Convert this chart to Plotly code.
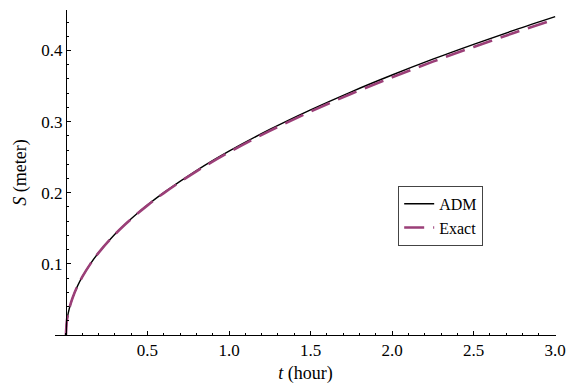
import plotly.graph_objects as go

t = [0, 0.005, 0.01, 0.02, 0.04, 0.07, 0.1, 0.15, 0.2, 0.3, 0.4, 0.5, 0.6, 0.8,
     1.0, 1.25, 1.5, 1.75, 2.0, 2.25, 2.5, 2.75, 3.0]
s_adm = [0, 0.0183, 0.0259, 0.0366, 0.0517, 0.0684, 0.0817, 0.1001, 0.1156, 0.1416,
         0.1635, 0.1828, 0.2002, 0.2312, 0.2585, 0.2890, 0.3166, 0.3420, 0.3656,
         0.3878, 0.4087, 0.4287, 0.4477]
s_exact = [0, 0.0183, 0.0259, 0.0366, 0.0517, 0.0684, 0.0816, 0.1000, 0.1155, 0.1414,
           0.1631, 0.1823, 0.1995, 0.2301, 0.2570, 0.2871, 0.3141, 0.3392, 0.3624,
           0.3844, 0.4051, 0.4250, 0.4440]
x_ticks = [0.5, 1.0, 1.5, 2.0, 2.5, 3.0]
x_labels = ["0.5", "1.0", "1.5", "2.0", "2.5", "3.0"]
y_ticks = [0.1, 0.2, 0.3, 0.4]
y_labels = ["0.1", "0.2", "0.3", "0.4"]

FONT = "Liberation Serif, Times New Roman, Times, serif"
xr = [-0.067, 3.005]

fig = go.Figure()
fig.add_trace(go.Scatter(x=t, y=s_adm, mode="lines", name="ADM",
                         line=dict(color="black", width=1.4, shape="spline")))
fig.add_trace(go.Scatter(x=t, y=s_exact, mode="lines", name="Exact",
                         line=dict(color="#9b3f78", width=2.6, dash="20px,9px", shape="spline")))

axis_common = dict(showgrid=False, zeroline=False, showline=True, linecolor="black",
                   linewidth=1, ticks="inside", ticklen=4, tickcolor="black",
                   tickfont=dict(family=FONT, size=17, color="black"))

fig.update_layout(
    width=576, height=389,
    margin=dict(l=55, r=13, t=10, b=52),
    paper_bgcolor="white", plot_bgcolor="white",
    font=dict(family=FONT, color="black"),
    xaxis=dict(range=xr, tickvals=x_ticks, ticktext=x_labels,
               minor=dict(dtick=0.1, ticks="inside", ticklen=2.5, tickcolor="black"),
               title=dict(text="<i>t</i> (hour)", font=dict(family=FONT, size=18), standoff=6),
               **axis_common),
    yaxis=dict(range=[0, 0.457], tickvals=y_ticks, ticktext=y_labels,
               anchor="free", position=(0 - xr[0]) / (xr[1] - xr[0]),
               minor=dict(dtick=0.02, ticks="inside", ticklen=2.5, tickcolor="black"),
               title=dict(text="<i>S</i> (meter)", font=dict(family=FONT, size=18), standoff=8),
               **axis_common),
    legend=dict(x=0.685, y=0.459, xanchor="left", yanchor="top",
                bordercolor="#444", borderwidth=1, bgcolor="white",
                font=dict(family=FONT, size=16, color="black"),
                tracegroupgap=0),
    showlegend=True,
)

fig.write_html("out.html")
